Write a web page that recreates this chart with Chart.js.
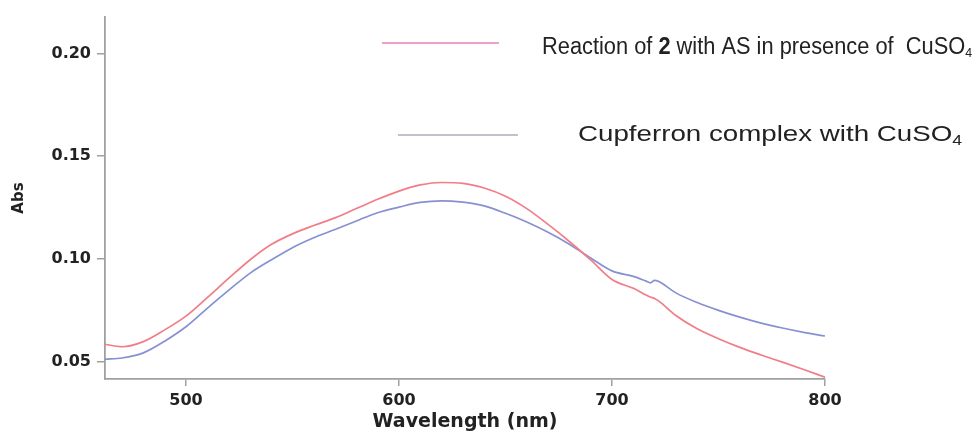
<!DOCTYPE html>
<html>
<head>
<meta charset="utf-8">
<script src="https://cdn.jsdelivr.net/npm/chart.js@4.4.1/dist/chart.umd.min.js"></script>
<style>
  html, body { margin: 0; padding: 0; background: #fff; }
  #wrap { width: 978px; height: 433px; }
</style>
</head>
<body>
<div id="wrap"><canvas id="spectrum" width="978" height="433"></canvas></div>
<script>
// wavelength grid (nm) shared by both spectra
const wavelengths = [462, 470, 480, 490, 500, 510, 520, 530, 540, 550, 560, 570, 580, 590, 600,
  610, 620, 630, 640, 650, 660, 670, 680, 690, 700, 710, 716, 718, 720, 722, 730, 740, 750,
  760, 770, 780, 790, 800];

// Reaction of 2 with AS in presence of CuSO4
const reactionAbs = [0.0585, 0.0573, 0.0598, 0.0655, 0.0722, 0.0812, 0.0905, 0.0995, 0.1070,
  0.1122, 0.1163, 0.1200, 0.1245, 0.1290, 0.1330, 0.1360, 0.1372, 0.1368, 0.1345, 0.1305,
  0.1245, 0.1168, 0.1085, 0.0995, 0.0900, 0.0857, 0.0825, 0.0815, 0.0808, 0.0795, 0.0725,
  0.0660, 0.0612, 0.0570, 0.0533, 0.0498, 0.0462, 0.0425];

// Cupferron complex with CuSO4
const cupferronAbs = [0.0512, 0.0518, 0.0543, 0.0600, 0.0670, 0.0760, 0.0847, 0.0930, 0.0995,
  0.1055, 0.1103, 0.1143, 0.1185, 0.1225, 0.1252, 0.1275, 0.1283, 0.1276, 0.1258, 0.1222,
  0.1180, 0.1130, 0.1072, 0.1005, 0.0942, 0.0915, 0.0892, 0.0884, 0.0896, 0.0890, 0.0835,
  0.0788, 0.0750, 0.0717, 0.0688, 0.0664, 0.0643, 0.0625];

const xTicks = [500, 600, 700, 800];
const yTicks = [0.05, 0.10, 0.15, 0.20];

const axisColor = 'rgb(160,160,160)';
const labelFont = { family: 'DejaVu Sans', weight: 'bold', size: 16 };

function toPoints(ys) {
  return wavelengths.map((w, i) => ({ x: w, y: ys[i] }));
}

// draws a run of text pieces squeezed/stretched to a given width
function drawRich(ctx, parts, x, y, width) {
  let total = 0;
  parts.forEach(p => { ctx.font = p.font; p.w = ctx.measureText(p.t).width; total += p.w; });
  ctx.save();
  ctx.translate(x, y);
  ctx.scale(width / total, 1);
  let cx = 0;
  parts.forEach(p => {
    ctx.font = p.font;
    ctx.fillText(p.t, cx, p.dy || 0);
    cx += p.w;
  });
  ctx.restore();
}

const legendPlugin = {
  id: 'spectraLegend',
  afterDraw(chart) {
    const ctx = chart.ctx;
    ctx.save();
    ctx.lineWidth = 1.6;
    ctx.strokeStyle = 'rgb(228,130,185)';
    ctx.beginPath(); ctx.moveTo(382, 43); ctx.lineTo(499, 43); ctx.stroke();
    ctx.strokeStyle = 'rgb(172,174,184)';
    ctx.beginPath(); ctx.moveTo(398, 135); ctx.lineTo(518, 135); ctx.stroke();

    ctx.fillStyle = '#222';
    ctx.textBaseline = 'alphabetic';
    const f1 = '23px "Liberation Sans Narrow", "Liberation Sans", sans-serif';
    const f1b = 'bold 23px "Liberation Sans Narrow", "Liberation Sans", sans-serif';
    const f1s = '13px "Liberation Sans Narrow", "Liberation Sans", sans-serif';
    drawRich(ctx, [
      { t: 'Reaction of ', font: f1 },
      { t: '2', font: f1b },
      { t: ' with AS in presence of  CuSO', font: f1 },
      { t: '4', font: f1s, dy: 3 }
    ], 542, 54, 430);

    const f2 = '22px "Liberation Sans", sans-serif';
    const f2s = '14px "Liberation Sans", sans-serif';
    drawRich(ctx, [
      { t: 'Cupferron complex with CuSO', font: f2 },
      { t: '4', font: f2s, dy: 4 }
    ], 578, 141, 384);
    ctx.restore();
  }
};

const ctx = document.getElementById('spectrum').getContext('2d');
new Chart(ctx, {
  type: 'line',
  data: {
    datasets: [
      {
        label: 'Reaction of 2 with AS in presence of CuSO4',
        data: toPoints(reactionAbs),
        borderColor: 'rgb(240,125,135)',
        borderWidth: 1.7,
        pointRadius: 0,
        cubicInterpolationMode: 'monotone'
      },
      {
        label: 'Cupferron complex with CuSO4',
        data: toPoints(cupferronAbs),
        borderColor: 'rgb(135,145,210)',
        borderWidth: 1.7,
        pointRadius: 0,
        cubicInterpolationMode: 'monotone'
      }
    ]
  },
  options: {
    responsive: false,
    animation: false,
    layout: { padding: { left: 0, top: 17, right: 153, bottom: 0 } },
    plugins: { legend: { display: false }, tooltip: { enabled: false } },
    scales: {
      x: {
        type: 'linear',
        min: 462,
        max: 800,
        afterFit: (s) => { s.height = 54; },
        afterBuildTicks: (s) => { s.ticks = xTicks.map(v => ({ value: v })); },
        grid: { drawOnChartArea: false, drawTicks: true, tickLength: 7, color: axisColor, lineWidth: 1.5 },
        border: { color: axisColor, width: 1.8 },
        ticks: { color: '#222', font: labelFont, padding: 5, maxRotation: 0, callback: (v) => String(v) },
        title: { display: true, text: 'Wavelength (nm)', color: '#222', font: { family: 'DejaVu Sans', weight: 'bold', size: 19 }, padding: { top: 0, bottom: 0 } }
      },
      y: {
        min: 0.0416,
        max: 0.2177,
        afterFit: (s) => { s.width = 105; },
        afterBuildTicks: (s) => { s.ticks = yTicks.map(v => ({ value: v })); },
        grid: { drawOnChartArea: false, drawTicks: true, tickLength: 8, color: axisColor, lineWidth: 1.5 },
        border: { color: axisColor, width: 1.8 },
        ticks: { color: '#222', font: labelFont, padding: 6, callback: (v) => v.toFixed(2) },
        title: { display: true, text: 'Abs', color: '#222', font: { family: 'DejaVu Sans', weight: 'bold', size: 15 }, padding: { top: 10, bottom: 0 } }
      }
    }
  },
  plugins: [legendPlugin]
});
</script>
</body>
</html>
